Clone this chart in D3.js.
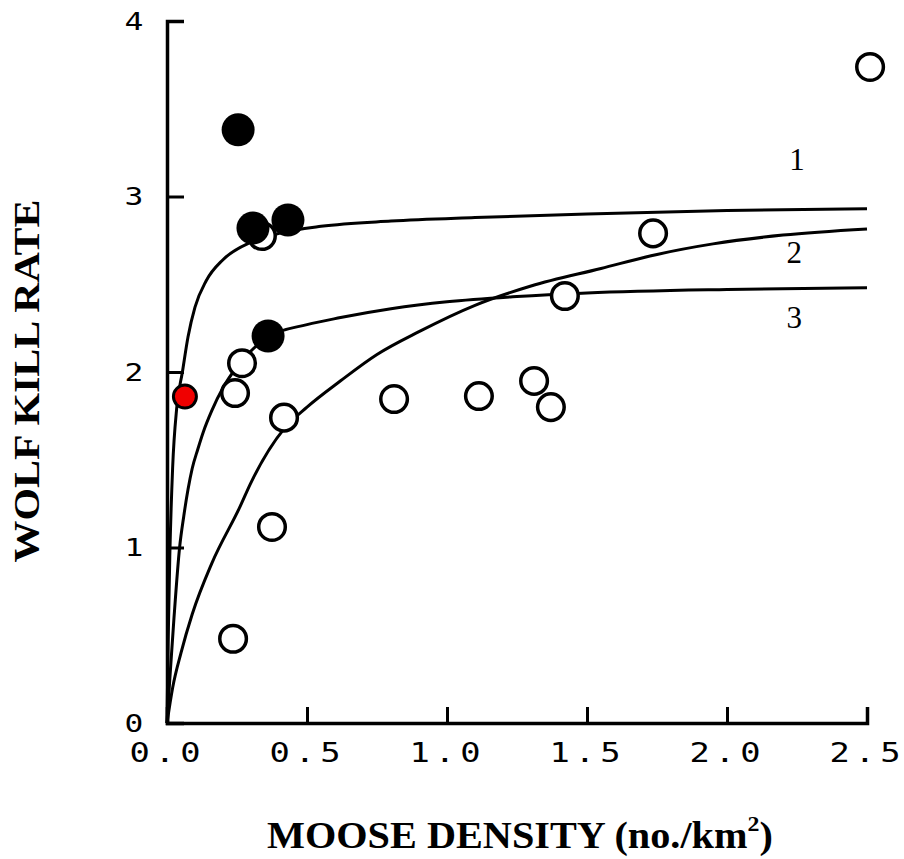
<!DOCTYPE html>
<html>
<head>
<meta charset="utf-8">
<script src="https://cdn.jsdelivr.net/npm/d3@7"></script>
<style>
  body { margin: 0; background: #fff; }
  svg { display: block; }
</style>
</head>
<body>
<div id="chart"></div>
<script>
// open circles (moose density, kill rate)
var openX = [0.236, 0.375, 0.418, 0.268, 0.243, 0.339, 0.811, 1.114, 1.311, 1.371, 1.421, 1.736, 2.511];
var openY = [0.48, 1.117, 1.74, 2.05, 1.88, 2.775, 1.846, 1.863, 1.949, 1.80, 2.433, 2.79, 3.738];

// filled circles
var fillX = [0.254, 0.307, 0.432, 0.361];
var fillY = [3.38, 2.82, 2.866, 2.205];

// the red one
var redX = [0.064];
var redY = [1.86];

// fitted curves
var curve1 = [[0,0],[0.004,0.45],[0.01,0.95],[0.02,1.45],[0.035,1.8],[0.055,2.0],[0.075,2.2],[0.1,2.37],[0.14,2.52],[0.2,2.64],[0.3,2.74],[0.4,2.79],[0.55,2.83],[0.8,2.86],[1.1,2.88],[1.5,2.9],[2.0,2.92],[2.5,2.93]];
var curve2 = [[0,0],[0.02,0.2],[0.05,0.4],[0.09,0.62],[0.16,0.91],[0.26,1.23],[0.3,1.37],[0.42,1.68],[0.5,1.8],[0.62,1.95],[0.75,2.1],[0.9,2.23],[1.1,2.38],[1.3,2.49],[1.55,2.59],[1.75,2.67],[1.95,2.73],[2.2,2.78],[2.5,2.815]];
var curve3 = [[0,0],[0.01,0.25],[0.025,0.6],[0.045,1.0],[0.06,1.18],[0.075,1.33],[0.09,1.45],[0.11,1.56],[0.13,1.66],[0.16,1.78],[0.2,1.91],[0.25,2.03],[0.3,2.12],[0.36,2.2],[0.5,2.27],[0.62,2.31],[0.8,2.36],[1.0,2.4],[1.25,2.43],[1.5,2.45],[2.0,2.47],[2.5,2.48]];

var curveNames = ["1", "2", "3"];
var curveLabelX = [2.25, 2.24, 2.24];
var curveLabelY = [3.15, 2.62, 2.25];

var xTicks = [0, 0.5, 1.0, 1.5, 2.0, 2.5];
var yTicks = [0, 1, 2, 3, 4];

var W = 904, H = 859;

var svg = d3.select("#chart")
  .append("svg")
    .attr("width", W)
    .attr("height", H)
    .style("background", "#fff");

var x = d3.scaleLinear().domain([0, 2.5]).range([167, 867]);
var y = d3.scaleLinear().domain([0, 4]).range([723, 21]);

// x axis, ticks point up
var xAxis = svg.append("g")
  .attr("transform", "translate(0," + y(0) + ")")
  .call(d3.axisBottom(x)
    .tickValues(xTicks)
    .tickFormat(d3.format(".1f"))
    .tickSizeInner(-16)
    .tickSizeOuter(-16)
    .tickPadding(20));

// y axis, ticks point right
var yAxis = svg.append("g")
  .attr("transform", "translate(" + x(0) + ",0)")
  .call(d3.axisLeft(y)
    .tickValues(yTicks)
    .tickFormat(d3.format("d"))
    .tickSizeInner(-17)
    .tickSizeOuter(-17)
    .tickPadding(18));

svg.selectAll(".domain")
  .attr("stroke", "#000")
  .attr("stroke-width", 3.5);
svg.selectAll(".tick line")
  .attr("stroke", "#000")
  .attr("stroke-width", 3);

xAxis.selectAll("text")
  .attr("font-family", "'DejaVu Sans Mono', monospace")
  .attr("font-size", 27)
  .attr("fill", "#000")
  .attr("letter-spacing", 4)
  .attr("transform", "scale(1.25,1)");

yAxis.selectAll("text")
  .attr("font-family", "'DejaVu Sans Mono', monospace")
  .attr("font-size", 25)
  .attr("fill", "#000")
  .attr("x", -19)
  .attr("transform", "scale(1.25,1)");

// curves
var line = d3.line()
  .x(function(d) { return x(d[0]); })
  .y(function(d) { return y(d[1]); })
  .curve(d3.curveMonotoneX);

svg.selectAll("path.fit")
  .data([curve1, curve2, curve3])
  .enter()
  .append("path")
    .attr("class", "fit")
    .attr("d", line)
    .attr("fill", "none")
    .attr("stroke", "#000")
    .attr("stroke-width", 3);

svg.selectAll("text.cname")
  .data(curveNames)
  .enter()
  .append("text")
    .attr("class", "cname")
    .attr("x", function(d, i) { return x(curveLabelX[i]); })
    .attr("y", function(d, i) { return y(curveLabelY[i]); })
    .attr("text-anchor", "middle")
    .attr("font-family", "'Liberation Serif', 'Times New Roman', serif")
    .attr("font-size", 31)
    .text(function(d) { return d; });

// points
svg.selectAll("circle.open")
  .data(openX)
  .enter()
  .append("circle")
    .attr("class", "open")
    .attr("cx", function(d) { return x(d); })
    .attr("cy", function(d, i) { return y(openY[i]); })
    .attr("r", 13.3)
    .attr("fill", "#fff")
    .attr("stroke", "#000")
    .attr("stroke-width", 3.5);

svg.selectAll("circle.filled")
  .data(fillX)
  .enter()
  .append("circle")
    .attr("class", "filled")
    .attr("cx", function(d) { return x(d); })
    .attr("cy", function(d, i) { return y(fillY[i]); })
    .attr("r", 16.5)
    .attr("fill", "#000");

svg.selectAll("circle.red")
  .data(redX)
  .enter()
  .append("circle")
    .attr("class", "red")
    .attr("cx", function(d) { return x(d); })
    .attr("cy", function(d, i) { return y(redY[i]); })
    .attr("r", 11.5)
    .attr("fill", "#f00000")
    .attr("stroke", "#000")
    .attr("stroke-width", 3);

// axis titles
var xTitle = svg.append("text")
  .attr("x", 0)
  .attr("y", 0)
  .attr("font-family", "'Liberation Serif', 'Times New Roman', serif")
  .attr("font-weight", "bold")
  .attr("font-size", 37)
  .attr("fill", "#000");
xTitle.append("tspan").text("MOOSE DENSITY (no./km");
xTitle.append("tspan").attr("dy", -17).attr("font-size", 22).text("2");
xTitle.append("tspan").attr("dy", 17).text(")");
var xw = xTitle.node().getComputedTextLength();
xTitle.attr("transform", "translate(267,848) scale(" + (506 / xw) + ",1)");

var yTitle = svg.append("text")
  .attr("x", 0)
  .attr("y", 0)
  .attr("text-anchor", "middle")
  .attr("font-family", "'Liberation Serif', 'Times New Roman', serif")
  .attr("font-weight", "bold")
  .attr("font-size", 36)
  .attr("fill", "#000")
  .text("WOLF KILL RATE");
var yw = yTitle.node().getComputedTextLength();
yTitle.attr("transform", "translate(39,381) rotate(-90) scale(" + (363 / yw) + ",1)");
</script>
</body>
</html>
